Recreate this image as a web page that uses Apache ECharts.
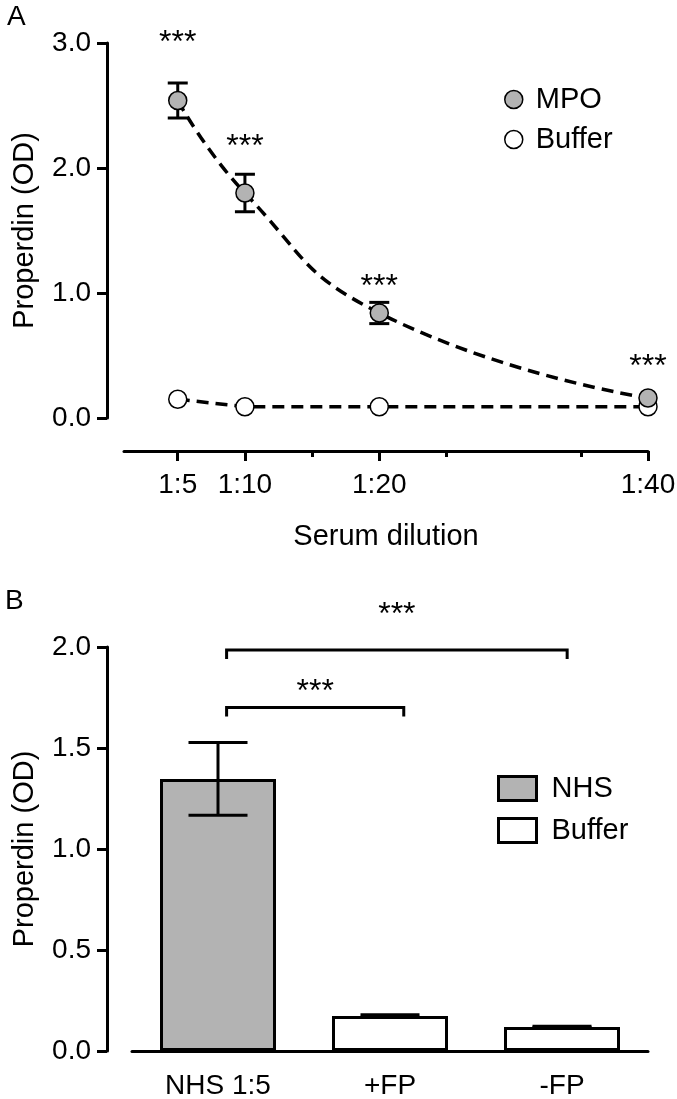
<!DOCTYPE html>
<html><head><meta charset="utf-8">
<script src="https://cdn.jsdelivr.net/npm/echarts@6/dist/echarts.min.js"></script>
<style>html,body{margin:0;padding:0;background:#fff}#c{width:677px;height:1099px}</style>
</head><body><div id="c"></div>
<script>
// ---------- Panel A data ----------
const dilutions = [5, 10, 20, 40];
const minorTicksA = [15, 25, 35];
const mpoMean = [2.54, 1.80, 0.84, 0.16];
const mpoSD = [0.14, 0.15, 0.085, 0];
const bufferMeanA = [0.15, 0.09, 0.09, 0.09];
const sigYA = [3.07, 2.24, 1.12, 0.48];
// ---------- Panel B data ----------
const categoriesB = ['NHS 1:5', '+FP', '-FP'];
const nhsB = [1.347, '-', '-'];
const bufferB = ['-', 0.173, 0.119];
const meanB = [1.347, 0.173, 0.119];
const errB = [0.18, 0.006, 0.003];
const bracketsB = [[0.05, 1.08, 1.70], [0.05, 2.03, 1.985]];
const sigYB = [1.82, 2.20];

const FF = "'Liberation Sans', Arial, Helvetica, sans-serif";
const chart = echarts.init(document.getElementById('c'), null, {renderer: 'canvas'});

function errRender(capHalf) {
  return function (params, api) {
    const x = api.value(0), m = api.value(1), s = api.value(2);
    if (!s) return null;
    const t = api.coord([x, m + s]);
    const b = api.coord([x, m - s]);
    const st = {stroke: '#000', lineWidth: 3};
    return {type: 'group', children: [
      {type: 'line', shape: {x1: t[0], y1: t[1], x2: b[0], y2: b[1]}, style: st},
      {type: 'line', shape: {x1: t[0] - capHalf, y1: t[1], x2: t[0] + capHalf, y2: t[1]}, style: st},
      {type: 'line', shape: {x1: b[0] - capHalf, y1: b[1], x2: b[0] + capHalf, y2: b[1]}, style: st}
    ]};
  };
}
function starRender(params, api) {
  const p = api.coord([api.value(0), api.value(1)]);
  return {type: 'text', x: p[0], y: p[1] + 9,
    style: {text: '***', fontSize: 32, fontFamily: FF, fill: '#000', align: 'center', verticalAlign: 'middle'}};
}
function bracketRender(params, api) {
  const p1 = api.coord([api.value(0), api.value(2)]);
  const p2 = api.coord([api.value(1), api.value(2)]);
  return {type: 'polyline', shape: {points: [[p1[0], p1[1] + 9], [p1[0], p1[1]], [p2[0], p1[1]], [p2[0], p1[1] + 9]]},
    style: {stroke: '#000', lineWidth: 3, fill: null}};
}

const axisLine = {show: true, onZero: false, lineStyle: {color: '#000', width: 3}};
const tickStyle = {lineStyle: {color: '#000', width: 3}};
const labelStyle = {color: '#000', fontSize: 28, fontFamily: FF};

const option = {
  animation: false,
  backgroundColor: '#fff',
  graphic: [
    {type: 'text', left: 7, top: 3, style: {text: 'A', fontSize: 28, fontFamily: FF, fill: '#000'}},
    {type: 'text', left: 5, top: 587, style: {text: 'B', fontSize: 28, fontFamily: FF, fill: '#000'}}
  ],
  legend: [
    {data: ['MPO', 'Buffer'], orient: 'vertical', left: 504, top: 85, padding: 0,
      itemWidth: 18, itemHeight: 18, itemGap: 11, icon: 'circle', selectedMode: false,
      itemStyle: {borderColor: '#000', borderWidth: 1.5},
      textStyle: {fontSize: 29, fontFamily: FF, color: '#000', padding: [0, 0, 0, 8]}},
    {data: ['NHS', 'Buffer (B)'], orient: 'vertical', left: 497, top: 774, padding: 0,
      itemWidth: 38, itemHeight: 24, itemGap: 13, icon: 'rect', selectedMode: false,
      formatter: n => n.replace(' (B)', ''),
      itemStyle: {borderColor: '#000', borderWidth: 3},
      textStyle: {fontSize: 29, fontFamily: FF, color: '#000', padding: [0, 0, 0, 10]}}
  ],
  grid: [
    {left: 124, top: 43, width: 524, height: 375, outerBoundsMode: 'none'},
    {left: 132, top: 647, width: 516, height: 404, outerBoundsMode: 'none'}
  ],
  xAxis: [
    {type: 'value', gridIndex: 0, position: 'bottom', min: 1, max: 40, offset: 33, splitLine: {show: false},
      axisLine: axisLine,
      axisTick: Object.assign({customValues: dilutions, length: 10}, tickStyle),
      axisLabel: Object.assign({customValues: dilutions, margin: 20, formatter: v => '1:' + v}, labelStyle),
      name: 'Serum dilution', nameLocation: 'middle', nameGap: 71,
      nameTextStyle: {fontSize: 29, fontFamily: FF, color: '#000'}},
    {type: 'value', gridIndex: 0, position: 'bottom', min: 1, max: 40, offset: 33, splitLine: {show: false},
      axisLine: {show: false, onZero: false},
      axisTick: Object.assign({customValues: minorTicksA, length: 6}, tickStyle),
      axisLabel: {show: false}},
    {type: 'category', gridIndex: 1, position: 'bottom', data: categoriesB, boundaryGap: true,
      axisLine: axisLine,
      axisTick: Object.assign({alignWithLabel: true, length: 10}, tickStyle),
      axisLabel: Object.assign({margin: 21}, labelStyle)},
    {type: 'value', gridIndex: 1, position: 'bottom', min: -0.5, max: 2.5, show: false,
      axisLine: {show: false, onZero: false}}
  ],
  yAxis: [
    {type: 'value', gridIndex: 0, position: 'left', min: 0, max: 3, interval: 1, offset: 17, splitLine: {show: false},
      axisLine: axisLine, axisTick: Object.assign({length: 10}, tickStyle),
      axisLabel: Object.assign({margin: 16, formatter: v => v.toFixed(1)}, labelStyle),
      name: 'Properdin (OD)', nameLocation: 'middle', nameGap: 68,
      nameTextStyle: {fontSize: 29, fontFamily: FF, color: '#000'}},
    {type: 'value', gridIndex: 1, position: 'left', min: 0, max: 2, interval: 0.5, offset: 25, splitLine: {show: false},
      axisLine: axisLine, axisTick: Object.assign({length: 10}, tickStyle),
      axisLabel: Object.assign({margin: 16, formatter: v => v.toFixed(1)}, labelStyle),
      name: 'Properdin (OD)', nameLocation: 'middle', nameGap: 68,
      nameTextStyle: {fontSize: 29, fontFamily: FF, color: '#000'}}
  ],
  series: [
    {type: 'custom', name: 'errA', xAxisIndex: 0, yAxisIndex: 0, renderItem: errRender(10),
      encode: {x: 0, y: 1}, data: dilutions.map((d, i) => [d, mpoMean[i], mpoSD[i]]), z: 2},
    {type: 'line', name: 'Buffer', xAxisIndex: 0, yAxisIndex: 0,
      data: dilutions.map((d, i) => [d, bufferMeanA[i]]),
      symbol: 'circle', symbolSize: 18,
      itemStyle: {color: '#ffffff', borderColor: '#000', borderWidth: 1.5},
      lineStyle: {color: '#000', width: 3.5, type: [12, 7]}, z: 3},
    {type: 'line', name: 'MPO', xAxisIndex: 0, yAxisIndex: 0,
      data: dilutions.map((d, i) => [d, mpoMean[i]]),
      symbol: 'circle', symbolSize: 18, smooth: 0.5,
      itemStyle: {color: '#b3b3b3', borderColor: '#000', borderWidth: 1.5},
      lineStyle: {color: '#000', width: 3.5, type: [12, 7]}, z: 4},
    {type: 'custom', name: 'sigA', xAxisIndex: 0, yAxisIndex: 0, renderItem: starRender,
      encode: {x: 0, y: 1}, data: dilutions.map((d, i) => [d, sigYA[i]]), z: 5},
    {type: 'bar', name: 'NHS', xAxisIndex: 2, yAxisIndex: 1, data: nhsB, barWidth: 116, barGap: '-100%',
      itemStyle: {color: '#b3b3b3', borderColor: '#000', borderWidth: 3}},
    {type: 'bar', name: 'Buffer (B)', xAxisIndex: 2, yAxisIndex: 1, data: bufferB, barWidth: 116, barGap: '-100%',
      itemStyle: {color: '#ffffff', borderColor: '#000', borderWidth: 3}},
    {type: 'custom', name: 'errB', xAxisIndex: 3, yAxisIndex: 1, renderItem: errRender(29.5),
      encode: {x: 0, y: 1}, data: meanB.map((m, i) => [i, m, errB[i]]), z: 5},
    {type: 'custom', name: 'brackets', xAxisIndex: 3, yAxisIndex: 1, renderItem: bracketRender,
      encode: {x: [0, 1], y: 2}, data: bracketsB, z: 5},
    {type: 'custom', name: 'sigB', xAxisIndex: 3, yAxisIndex: 1, renderItem: starRender,
      encode: {x: 0, y: 1}, data: bracketsB.map((b, i) => [(b[0] + b[1]) / 2, sigYB[i]]), z: 5}
  ]
};
chart.setOption(option);
</script>
</body></html>
